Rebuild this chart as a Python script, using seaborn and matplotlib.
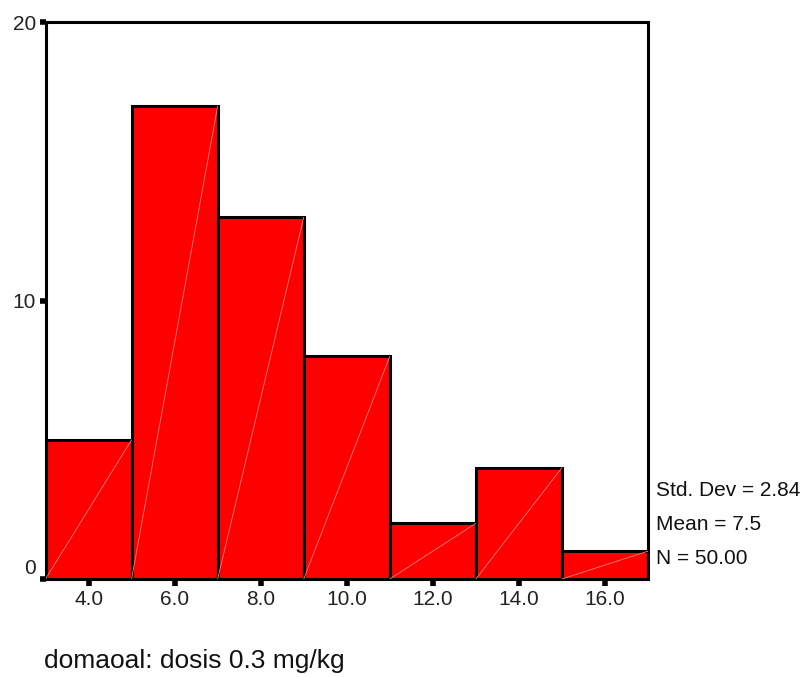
import matplotlib
matplotlib.use("Agg")
import matplotlib.pyplot as plt
import matplotlib.transforms as mtransforms
import seaborn as sns
import numpy as np
import pandas as pd

bin_centers = [4.0, 6.0, 8.0, 10.0, 12.0, 14.0, 16.0]
counts = [5, 17, 13, 8, 2, 4, 1]
bin_width = 2.0
x_ticks = [4.0, 6.0, 8.0, 10.0, 12.0, 14.0, 16.0]
x_tick_labels = ["4.0", "6.0", "8.0", "10.0", "12.0", "14.0", "16.0"]
y_ticks = [0, 10, 20]
stats_lines = ["Std. Dev = 2.84", "Mean = 7.5", "N = 50.00"]
x_label = "domaoal: dosis 0.3 mg/kg"

sns.set_style("white")
plt.rcParams['font.family'] = ['Liberation Sans', 'DejaVu Sans']

df = pd.DataFrame({"x": bin_centers, "count": counts})

fig = plt.figure(figsize=(8.06, 6.77), dpi=100)
ax = fig.add_axes([0.0565, 0.1448, 0.7475, 0.822])

sns.histplot(data=df, x="x", weights="count", binwidth=bin_width,
             binrange=(bin_centers[0] - bin_width / 2, bin_centers[-1] + bin_width / 2),
             color="#ff0000", alpha=1.0, edgecolor="black", linewidth=2.2, ax=ax)

# faint diagonal lines inside bars
for c, n in zip(bin_centers, counts):
    ax.plot([c - bin_width / 2, c + bin_width / 2], [0, n], color="#ff8080",
            linewidth=0.6, zorder=3)

ax.set_xlim(bin_centers[0] - bin_width / 2, bin_centers[-1] + bin_width / 2)
ax.set_ylim(0, 20)
ax.set_xticks(x_ticks)
ax.set_xticklabels(x_tick_labels)
ax.set_yticks(y_ticks)
ax.set_yticklabels([str(v) for v in y_ticks])
ax.tick_params(axis='both', bottom=True, left=True, direction='out', length=5,
               width=4, color='black', labelsize=15, labelcolor='#222222')
ax.tick_params(axis='x', pad=3)
ax.tick_params(axis='y', pad=3, length=4)
for s in ax.spines.values():
    s.set_visible(True)
    s.set_color('black')
    s.set_linewidth(2.2)
ax.set_xlabel("")
ax.set_ylabel("")

# lift the "0" label slightly, as in the reference
lbl0 = ax.get_yticklabels()[0]
lbl0.set_transform(lbl0.get_transform() +
                   mtransforms.ScaledTranslation(0, 12 / 100, fig.dpi_scale_trans))

for i, t in enumerate(stats_lines):
    fig.text(656 / 806, 1 - (491 + i * 33.5) / 677, t, fontsize=15, color='#111111',
             va='center', ha='left')

fig.text(44 / 806, 1 - 661 / 677, x_label, fontsize=19, color='#111111',
         va='center', ha='left')

fig.savefig("out.png", dpi=100, facecolor='white')
